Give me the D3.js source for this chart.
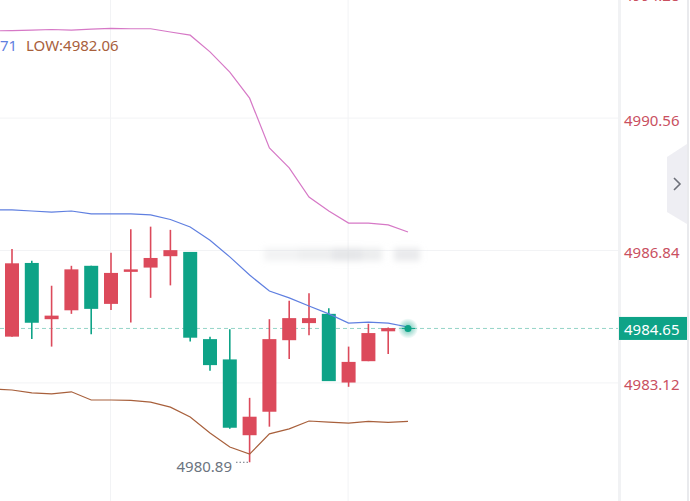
<!DOCTYPE html>
<html>
<head>
<meta charset="utf-8">
<script src="https://cdn.jsdelivr.net/npm/d3@7"></script>
<style>
  html, body { margin: 0; padding: 0; background: #fff; overflow: hidden; }
  text { font-family: "Noto Sans", sans-serif; }
</style>
</head>
<body>
<div id="chart"></div>
<script>
// price data
let opens  = [4984.42, 4986.49, 4984.91, 4985.16, 4986.41, 4985.34, 4986.24, 4986.36, 4986.68, 4986.80, 4984.35, 4983.78, 4981.65, 4982.31, 4984.32, 4984.80, 4985.06, 4983.13, 4983.73, 4984.57, 4984.65];
let closes = [4986.48, 4984.81, 4985.01, 4986.31, 4985.20, 4986.21, 4986.31, 4986.63, 4986.85, 4984.39, 4983.62, 4981.86, 4982.17, 4984.35, 4984.94, 4984.94, 4983.17, 4983.71, 4984.52, 4984.66, 4984.65];
let highs  = [4986.88, 4986.55, 4985.85, 4986.41, 4986.41, 4986.78, 4987.44, 4987.51, 4987.42, 4986.80, 4984.42, 4984.63, 4982.70, 4984.91, 4985.43, 4985.64, 4985.22, 4984.14, 4984.78, 4984.68, 4984.65];
let lows   = [4984.42, 4984.35, 4984.14, 4985.06, 4984.49, 4985.17, 4984.82, 4985.51, 4985.86, 4984.28, 4983.46, 4981.83, 4980.89, 4981.89, 4983.79, 4984.46, 4983.17, 4983.01, 4983.73, 4983.93, 4984.65];

// band lines start one candle earlier, just left of the window
let upper = [4993.01, 4993.02, 4993.03, 4993.05, 4993.03, 4993.06, 4993.08, 4993.07, 4993.07, 4992.98, 4992.89, 4992.42, 4991.85, 4991.12, 4989.72, 4989.16, 4988.34, 4987.95, 4987.61, 4987.61, 4987.56, 4987.36];
let mid   = [4987.98, 4987.98, 4987.95, 4987.92, 4987.95, 4987.87, 4987.87, 4987.87, 4987.84, 4987.71, 4987.50, 4987.13, 4986.66, 4986.15, 4985.70, 4985.51, 4985.28, 4985.06, 4984.80, 4984.83, 4984.80, 4984.69];
let lower = [4982.95, 4982.92, 4982.84, 4982.81, 4982.87, 4982.64, 4982.64, 4982.63, 4982.58, 4982.44, 4982.16, 4981.71, 4981.32, 4981.12, 4981.69, 4981.83, 4982.05, 4982.02, 4981.99, 4982.04, 4982.01, 4982.04];

// outer two ticks sit where the picture clips them, not on the even step
let tickValues = [4994.05, 4990.56, 4986.84, 4983.12, 4979.73];
let tickLabels = ["4994.28", "4990.56", "4986.84", "4983.12", "4979.40"];
let gridTimes = [5, 17];

let lastPrice = 4984.65;
let lowPrice = 4980.89;
let legendMid = "71";
let legendLow = "LOW:4982.06";

let svgWidth = 690;
let svgHeight = 501;
let axisLeft = 619;
let axisRight = 687;

let red = "#dc4a5b";
let green = "#0ea387";

let svg = d3.select("#chart")
  .append("svg")
  .attr("width", svgWidth)
  .attr("height", svgHeight)
  .style("display", "block");

let defs = svg.append("defs");
defs.append("filter").attr("id", "blur")
  .attr("x", "-20%").attr("y", "-80%").attr("width", "140%").attr("height", "260%")
  .append("feGaussianBlur").attr("stdDeviation", 3.2);
let glow = defs.append("radialGradient").attr("id", "glow");
glow.append("stop").attr("offset", "30%").attr("stop-color", green).attr("stop-opacity", 0.45);
glow.append("stop").attr("offset", "100%").attr("stop-color", green).attr("stop-opacity", 0.02);

let x = d3.scaleLinear().domain([0, 20]).range([12, 408]);
let y = d3.scaleLinear().domain([4986.84, 4983.12]).range([250.5, 382.9]);

// grid
svg.append("g").selectAll("line")
  .data(tickValues)
  .join("line")
  .attr("x1", 0).attr("x2", axisLeft)
  .attr("y1", d => y(d)).attr("y2", d => y(d))
  .attr("stroke", "#f2f3f5");

svg.append("g").selectAll("line")
  .data(gridTimes)
  .join("line")
  .attr("x1", d => x(d) - 0.5).attr("x2", d => x(d) - 0.5)
  .attr("y1", 0).attr("y2", svgHeight)
  .attr("stroke", "#f2f3f5");

// blurred watermark
let mark = svg.append("g").attr("filter", "url(#blur)").attr("fill", "#d4d6d9");
mark.selectAll("rect")
  .data([[264, 34, 0.3], [298, 34, 0.4], [332, 30, 0.6], [362, 20, 0.45], [394, 26, 0.5]])
  .join("rect")
  .attr("x", d => d[0]).attr("width", d => d[1])
  .attr("y", 248).attr("height", 13)
  .attr("opacity", d => d[2]);

// last price dashed line
svg.append("line")
  .attr("x1", 0).attr("x2", axisLeft)
  .attr("y1", y(lastPrice)).attr("y2", y(lastPrice))
  .attr("stroke", "#94d4c7")
  .attr("stroke-dasharray", "4,3");

// candles
let candles = svg.append("g").selectAll("g")
  .data(opens.map((o, i) => i))
  .join("g");

candles.append("line")
  .attr("x1", i => x(i)).attr("x2", i => x(i))
  .attr("y1", i => y(highs[i])).attr("y2", i => y(lows[i]))
  .attr("stroke", i => closes[i] >= opens[i] && i < 20 ? red : green)
  .attr("stroke-width", 1.6);

candles.append("rect")
  .attr("x", i => x(i) - 7)
  .attr("width", 14)
  .attr("y", i => y(Math.max(opens[i], closes[i])))
  .attr("height", i => Math.abs(y(opens[i]) - y(closes[i])))
  .attr("fill", i => closes[i] >= opens[i] ? red : green);

// band lines
let line = d3.line()
  .x((d, i) => x(i - 1))
  .y(d => y(d));

[[upper, "#d678c6"], [mid, "#5f7fe0"], [lower, "#a8603c"]].forEach(s => {
  svg.append("path")
    .datum(s[0])
    .attr("d", line)
    .attr("fill", "none")
    .attr("stroke", s[1])
    .attr("stroke-width", 1.2);
});

// pulse on the last price
svg.append("circle")
  .attr("cx", x(20)).attr("cy", y(lastPrice))
  .attr("r", 10).attr("fill", "url(#glow)");
svg.append("line")
  .attr("x1", x(20) - 6).attr("x2", x(20) + 7)
  .attr("y1", y(lastPrice)).attr("y2", y(lastPrice))
  .attr("stroke", green);
svg.append("circle")
  .attr("cx", x(20)).attr("cy", y(lastPrice))
  .attr("r", 3.5).attr("fill", green);

// low marker
svg.append("line")
  .attr("x1", 236).attr("x2", x(12))
  .attr("y1", y(lowPrice)).attr("y2", y(lowPrice))
  .attr("stroke", "#6b7480")
  .attr("stroke-dasharray", "1.5,2");
svg.append("text")
  .attr("x", 232).attr("y", y(lowPrice) + 9.5)
  .attr("text-anchor", "end")
  .attr("font-size", 15)
  .attr("fill", "#6b7480")
  .text(lowPrice.toFixed(2));

// legend
svg.append("text").attr("x", 0).attr("y", 50.5).attr("font-size", 15).attr("fill", "#5f7fe0").text(legendMid);
svg.append("text").attr("x", 26).attr("y", 50.5).attr("font-size", 15).attr("fill", "#a8603c").text(legendLow);

// right axis
svg.append("rect").attr("x", axisLeft - 1).attr("y", 0).attr("width", 3).attr("height", svgHeight).attr("fill", "#f1f2f4");
svg.append("rect").attr("x", axisRight).attr("y", 0).attr("width", 2).attr("height", svgHeight).attr("fill", "#e9eaed");

let yAxis = d3.axisRight(y)
  .tickValues(tickValues)
  .tickFormat((d, i) => tickLabels[i])
  .tickSize(0)
  .tickPadding(5);

let axisGroup = svg.append("g")
  .attr("transform", `translate(${axisLeft}, 0)`)
  .call(yAxis);
axisGroup.select(".domain").remove();
axisGroup.selectAll("text")
  .attr("font-size", 15)
  .attr("dy", "0.46em")
  .style("font-family", '"Noto Sans", sans-serif')
  .attr("fill", "#c9505f");

// last price tag
svg.append("rect")
  .attr("x", axisLeft).attr("y", y(lastPrice) - 11.5)
  .attr("width", axisRight - axisLeft).attr("height", 23)
  .attr("fill", green);
svg.append("text")
  .attr("x", axisLeft + 5).attr("y", y(lastPrice) + 6.5)
  .attr("font-size", 15)
  .attr("fill", "#fff")
  .text(lastPrice.toFixed(2));

// collapse handle
svg.append("polygon")
  .attr("points", "667,157 687,144 687,224 667,212")
  .attr("fill", "#eeeef3");
svg.append("path")
  .attr("d", "M674,178 L680,184 L674,190")
  .attr("fill", "none")
  .attr("stroke", "#6d7079")
  .attr("stroke-width", 1.6);
</script>
</body>
</html>
